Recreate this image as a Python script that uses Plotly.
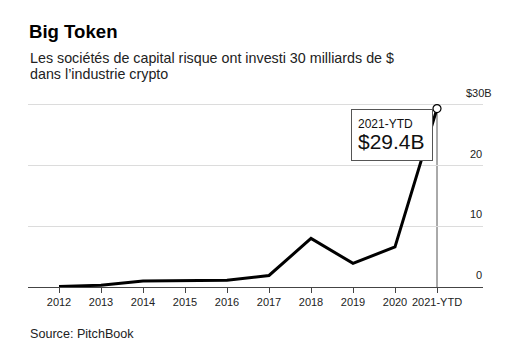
import plotly.graph_objects as go

categories = ["2012", "2013", "2014", "2015", "2016", "2017", "2018", "2019", "2020", "2021-YTD"]
values = [0.1, 0.3, 1.0, 1.1, 1.1, 1.9, 8.0, 3.9, 6.6, 29.4]
y_ticks = [0, 10, 20, 30]
y_ticklabels = ["0", "10", "20", "$30B"]

title = "Big Token"
subtitle_lines = ["Les sociétés de capital risque ont investi 30 milliards de $", "dans l’industrie crypto"]
source = "Source: PitchBook"

FONT = "Liberation Sans, Arial, Helvetica, sans-serif"

# page has an 8px body margin; work in page pixels and offset
OFF = 8
W, H = 512 - 2 * OFF, 364 - 2 * OFF
L, R, T, B = 28 - OFF, W - (483 - OFF), 95 - OFF, H - (287 - OFF)
plot_h = H - T - B
y_max = 31.64
x_idx = list(range(len(categories)))


def py(page_pix):
    return (H - B - (page_pix - OFF)) / plot_h


fig = go.Figure()

# vertical marker line for latest value
fig.add_shape(type="line", xref="x", yref="y", x0=x_idx[-1], x1=x_idx[-1], y0=0, y1=values[-1],
              line=dict(color="#555555", width=1), layer="below")

fig.add_trace(go.Scatter(x=x_idx, y=values, mode="lines",
                         line=dict(color="black", width=3), cliponaxis=False, hoverinfo="skip"))
fig.add_trace(go.Scatter(x=[x_idx[-1]], y=[values[-1]], mode="markers",
                         marker=dict(size=8, color="white", line=dict(color="black", width=1.2)),
                         cliponaxis=False, hoverinfo="skip"))

annotations = []
# y tick labels above gridlines
for v, t in zip(y_ticks, y_ticklabels):
    annotations.append(dict(xref="paper", yref="y", x=1, y=v, text=t, showarrow=False,
                            xanchor="right", yanchor="bottom", yshift=4,
                            xshift=(11 if t.startswith("$") else 1),
                            font=dict(family=FONT, size=11, color="#222222")))

# callout box
annotations.append(dict(xref="x", yref="y", x=x_idx[-1], y=values[-1], xanchor="right", yanchor="top",
                        xshift=-4, yshift=0, showarrow=False, align="left", valign="middle",
                        width=68, height=38,
                        text=(f"<span style='font-size:12px'>{categories[-1]}</span><br>"
                              f"<span style='font-size:21px'>${values[-1]}B</span>"),
                        font=dict(family=FONT, size=16, color="#111111"),
                        bgcolor="white", bordercolor="#555555", borderwidth=1, borderpad=6))

annotations.append(dict(xref="paper", yref="paper", x=0, y=py(31), xanchor="left", yanchor="middle",
                        text=f"<b>{title}</b>", showarrow=False,
                        font=dict(family=FONT, size=18.6, color="black"), xshift=-1))
for i, line in enumerate(subtitle_lines):
    annotations.append(dict(xref="paper", yref="paper", x=0, y=py(58 + 16 * i), xanchor="left",
                            yanchor="middle", text=line, showarrow=False,
                            font=dict(family=FONT, size=14.3, color="#222222")))
annotations.append(dict(xref="paper", yref="paper", x=0, y=py(334), xanchor="left", yanchor="middle",
                        text=source, showarrow=False, font=dict(family=FONT, size=12.6, color="#222222")))

fig.update_layout(
    width=W, height=H,
    margin=dict(l=L, r=R, t=T, b=B, pad=0),
    paper_bgcolor="white", plot_bgcolor="white",
    showlegend=False,
    annotations=annotations,
    xaxis=dict(range=[-31 / 42, 9 + 46 / 42], tickmode="array", tickvals=x_idx, ticktext=categories,
               showgrid=False, zeroline=False, showline=True, linecolor="#444444", linewidth=1,
               ticks="outside", ticklen=5, tickcolor="#444444", tickwidth=1,
               tickfont=dict(family=FONT, size=11, color="#222222"), fixedrange=True),
    yaxis=dict(range=[0, y_max], tickmode="array", tickvals=y_ticks[1:], showticklabels=False,
               showgrid=True, gridcolor="#dcdcdc", gridwidth=1, zeroline=False, showline=False,
               fixedrange=True),
)

fig.write_html("out.html")
